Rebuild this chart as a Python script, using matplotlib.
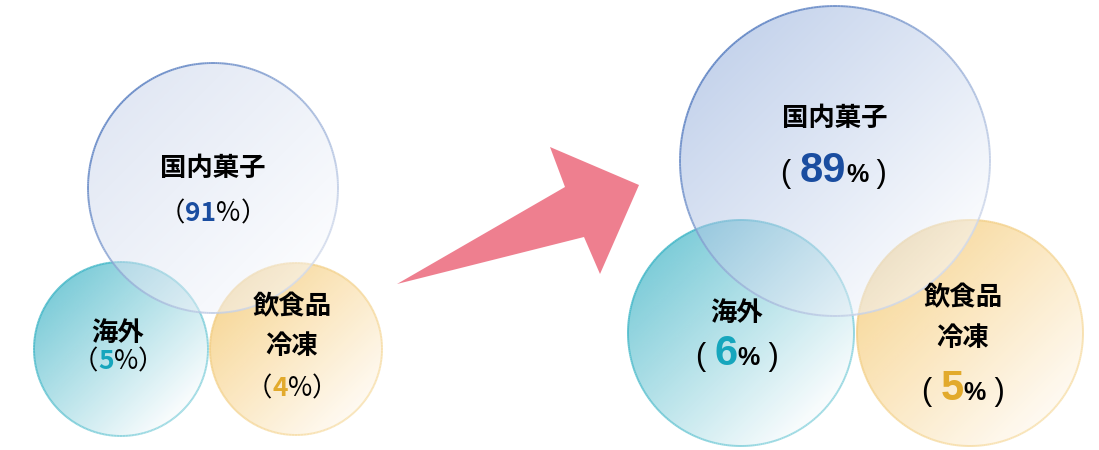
import numpy as np
import matplotlib.pyplot as plt
from matplotlib.patches import Circle, Polygon
from matplotlib.collections import LineCollection
from matplotlib.colors import to_rgb

plt.rcParams['font.family'] = ['Noto Sans CJK JP', 'DejaVu Sans']

# data
segments = ["国内菓子", "海外", "飲食品\n冷凍"]
share_before = [91, 5, 4]
share_after = [89, 6, 5]
num_colors = ["#1a4da0", "#16a6bd", "#e2aa2c"]

# layout (pixels): (cx, cy, r) per segment
left_geo = [(213, 188, 125), (121, 349, 87), (296, 349, 86)]
right_geo = [(835, 161, 155), (741, 333, 113), (970, 333, 113)]

# fill gradient (top-left colour, bottom-right colour) and edge gradient
fill_left = [("#e2e8f4", "#fbfcfe"), ("#7fcdd9", "#fbfdfe"), ("#f8d99b", "#fffaf2")]
fill_right = [("#c6d4ec", "#fbfcfe"), ("#7fcdd9", "#fbfdfe"), ("#f8d99b", "#fffaf2")]
edge_cols = [("#557cc0", "#d3dbec"), ("#3fb6c7", "#8fd5df"), ("#f2cd82", "#f8e0ad")]
alphas = [0.5, 0.8, 0.8]

fig = plt.figure(figsize=(10.99, 4.5), dpi=100)
ax = fig.add_axes([0, 0, 1, 1])
ax.set_xlim(0, 1099)
ax.set_ylim(450, 0)
ax.axis('off')


def src_color(app, a):
    # colour that looks like `app` on white when drawn with alpha a
    app = np.array(to_rgb(app))
    return np.clip(1 - (1 - app) / a, 0, 1)


def gradient_circle(cx, cy, r, c0, c1, e0, e1, a, z):
    n = 300
    xs = np.linspace(cx - r, cx + r, n)
    ys = np.linspace(cy - r, cy + r, n)
    X, Y = np.meshgrid(xs, ys)
    t = np.clip(0.5 + ((X - cx) + (Y - cy)) / (2 * np.sqrt(2) * r), 0, 1)
    s0 = src_color(c0, a)
    s1 = src_color(c1, a)
    img = np.zeros((n, n, 4))
    for k in range(3):
        img[..., k] = s0[k] * (1 - t) + s1[k] * t
    img[..., 3] = a
    im = ax.imshow(img, extent=(cx - r, cx + r, cy + r, cy - r),
                   origin='upper', zorder=z, interpolation='bilinear')
    clip = Circle((cx, cy), r, transform=ax.transData)
    im.set_clip_path(clip)
    # edge
    ang = np.linspace(0, 2 * np.pi, 361)
    px = cx + r * np.cos(ang)
    py = cy + r * np.sin(ang)
    pts = np.column_stack([px, py])
    segs = np.stack([pts[:-1], pts[1:]], axis=1)
    mx = (px[:-1] + px[1:]) / 2
    my = (py[:-1] + py[1:]) / 2
    tt = np.clip(0.5 + ((mx - cx) + (my - cy)) / (2 * np.sqrt(2) * r), 0, 1)
    a0 = np.array(to_rgb(e0))
    a1 = np.array(to_rgb(e1))
    cols = [(*(a0 * (1 - v) + a1 * v), 0.85) for v in tt]
    lc = LineCollection(segs, colors=cols, linewidths=1.4, zorder=z + 0.5)
    ax.add_collection(lc)


def mixed_line(x, y, parts):
    # parts: (text, colour, size, weight, family), centred on x, baseline at y
    r = fig.canvas.get_renderer()
    objs = []
    widths = []
    for s, c, size, w, fam in parts:
        t = ax.text(0, y, s, color=c, fontsize=size, fontweight=w, family=fam,
                    ha='left', va='baseline', zorder=10)
        widths.append(t.get_window_extent(r).width)
        objs.append(t)
    pos = x - sum(widths) / 2
    for t, w in zip(objs, widths):
        t.set_x(pos)
        pos += w


# circles: small ones first, big one on top
for geo, fills in ((left_geo, fill_left), (right_geo, fill_right)):
    for i in (1, 2, 0):
        cx, cy, r = geo[i]
        gradient_circle(cx, cy, r, fills[i][0], fills[i][1],
                        edge_cols[i][0], edge_cols[i][1], alphas[i],
                        z=2 + (i == 0) * 2)

# arrow
arrow = Polygon([(397, 284), (565, 187), (550, 147), (639, 185),
                 (600, 274), (584, 237)], closed=True,
                facecolor="#ee7f8f", edgecolor='none', zorder=1)
ax.add_patch(arrow)

LBL = 19
JP = ['Noto Sans CJK JP', 'DejaVu Sans']
LS = ['Liberation Sans', 'DejaVu Sans']
fig.canvas.draw()


def small_pct(x, y, v, col):
    mixed_line(x, y, [("（", "black", LBL, 'normal', JP), (str(v), col, LBL, 'bold', JP),
                      ("%", "black", LBL, 'normal', JP), ("）", "black", LBL, 'normal', JP)])


def big_pct(x, y, v, col):
    mixed_line(x, y, [("( ", "black", 22, 'normal', LS), (str(v), col, 30, 'bold', LS),
                      ("%", "black", 18, 'bold', LS), (" )", "black", 22, 'normal', LS)])


l1, l2 = segments[2].split("\n")

# left (before) labels
ax.text(213, 168, segments[0], fontsize=LBL, fontweight='bold', ha='center', va='center', zorder=10)
small_pct(213, 221, share_before[0], num_colors[0])
ax.text(118, 333, segments[1], fontsize=LBL, fontweight='bold', ha='center', va='center', zorder=10)
small_pct(118, 369, share_before[1], num_colors[1])
ax.text(292, 307, l1, fontsize=LBL, fontweight='bold', ha='center', va='center', zorder=10)
ax.text(292, 346, l2, fontsize=LBL, fontweight='bold', ha='center', va='center', zorder=10)
small_pct(292, 396, share_before[2], num_colors[2])

# right (after) labels
ax.text(835, 118, segments[0], fontsize=LBL, fontweight='bold', ha='center', va='center', zorder=10)
big_pct(834, 182, share_after[0], num_colors[0])
ax.text(737, 313, segments[1], fontsize=LBL, fontweight='bold', ha='center', va='center', zorder=10)
big_pct(737, 365, share_after[1], num_colors[1])
ax.text(963, 298, l1, fontsize=LBL, fontweight='bold', ha='center', va='center', zorder=10)
ax.text(963, 338, l2, fontsize=LBL, fontweight='bold', ha='center', va='center', zorder=10)
big_pct(963, 400, share_after[2], num_colors[2])

fig.savefig("out.png", dpi=100)
